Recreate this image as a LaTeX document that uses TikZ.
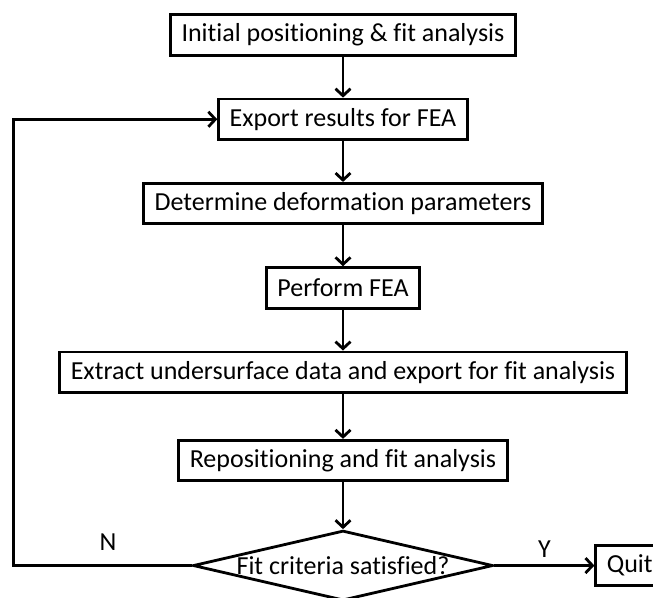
\documentclass[tikz,border=0pt]{standalone}
\usepackage{fontspec}
\setmainfont{Carlito}[Ligatures=NoCommon]
\usetikzlibrary{shapes.geometric, arrows.meta, positioning}
\tikzstyle{process} = [rectangle, draw=black, line width=2.8pt, minimum height=40.5pt, inner xsep=11pt, text centered]
\tikzstyle{decision} = [diamond, draw=black, line width=2.8pt, minimum width=300pt, minimum height=70pt, inner sep=0pt]
\tikzstyle{arrow} = [line width=2.8pt, ->, >={Straight Barb[length=7pt,width=15pt]}]

\begin{document}
\begin{tikzpicture}[node distance=41pt, every node/.style={font=\fontsize{26pt}{31pt}\selectfont}]
    \useasboundingbox (0,0) rectangle (653pt,-597pt);
    \node[process] (init) at (343pt,-35pt) {Initial positioning \& fit analysis};
    \node[process, below=of init] (export) {Export results for FEA};
    \node[process, below=of export] (deform) {Determine deformation parameters};
    \node[process, below=of deform] (fea) {Perform FEA};
    \node[process, below=of fea] (extract) {Extract undersurface data and export for fit analysis};
    \node[process, below=45pt of extract] (repos) {Repositioning and fit analysis};
    \node[decision, below=47pt of repos] (check) {\makebox[0pt]{Fit criteria satisfied?}};
    \node[process, right=100pt of check] (quit) {Quit};

    \draw[arrow] (init) -- (export);
    \draw[arrow] (export) -- (deform);
    \draw[arrow] (deform) -- (fea);
    \draw[arrow] (fea) -- (extract);
    \draw[arrow] (extract) -- (repos);
    \draw[arrow] (repos) -- (check);
    \draw[arrow] (check) -- node[above=3pt] {Y} (quit);
    \draw[arrow] (check.west) -- node[above=10pt, pos=0.47] {N} ++(-178pt,0) |- (export.west);
\end{tikzpicture}
\end{document}
